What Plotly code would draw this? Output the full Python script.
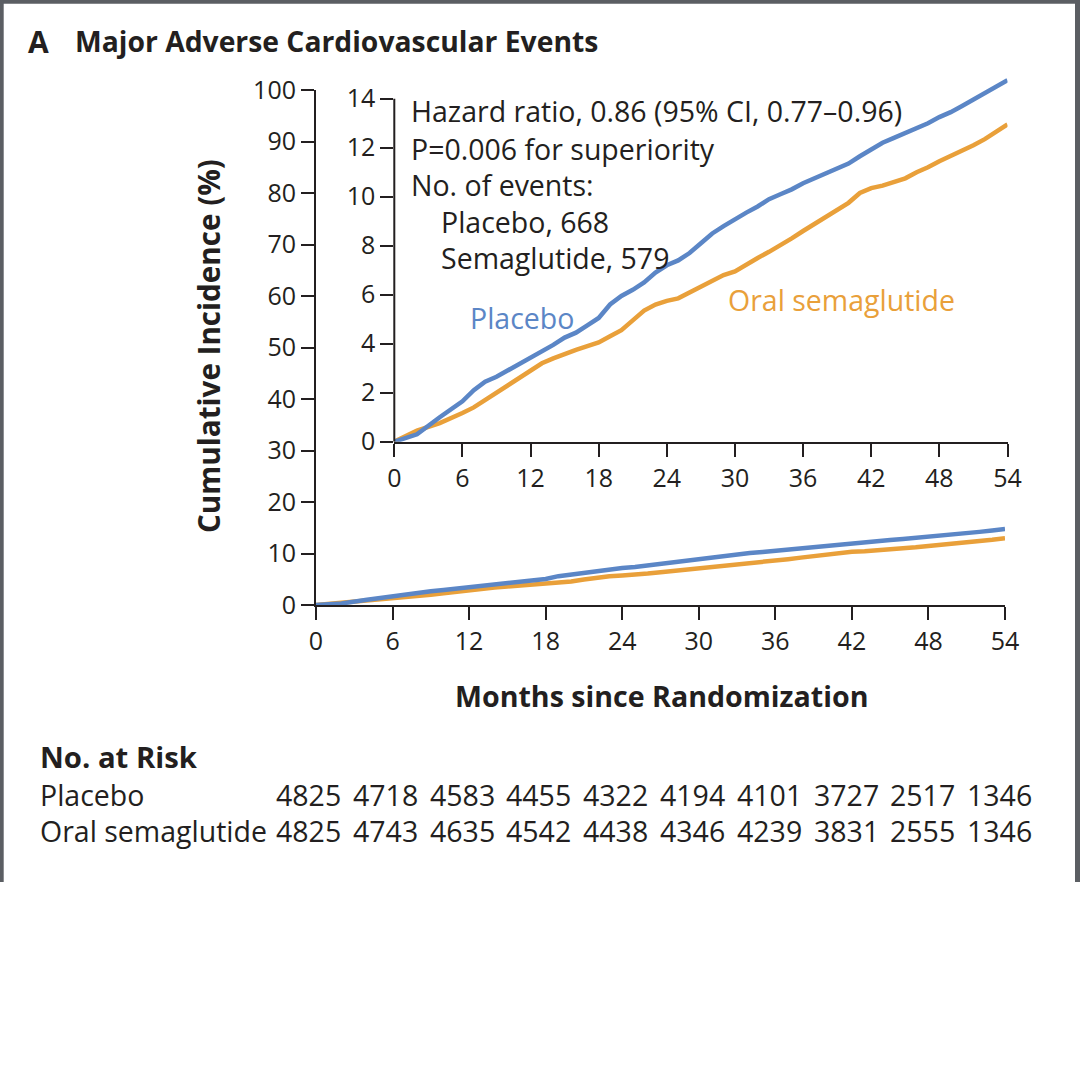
import plotly.graph_objects as go

# ---------------- data ----------------
months = [0, 2, 4, 5, 6, 7, 8, 9, 10, 11, 12, 13, 14, 15, 16, 17, 18, 19, 20, 21, 22, 23, 24,
          25, 26, 27, 28, 29, 30, 31, 32, 33, 34, 35, 36, 37, 38, 39, 40, 41, 42, 43, 44,
          45, 46, 47, 48, 49, 50, 51, 52, 53, 54]
placebo = [0, 0.3, 1.0, 1.35, 1.65, 2.1, 2.45, 2.65, 2.9, 3.15, 3.45, 3.7, 3.95, 4.25, 4.45, 4.75,
           5.05, 5.6, 5.95, 6.2, 6.5, 6.9, 7.2, 7.4, 7.7, 8.1, 8.5, 8.8, 9.1, 9.35, 9.6, 9.9, 10.1,
           10.3, 10.55, 10.75, 10.95, 11.15, 11.35, 11.65, 11.95, 12.2, 12.4, 12.6, 12.8, 13.0,
           13.25, 13.45, 13.7, 13.95, 14.2, 14.45, 14.75]
semaglutide = [0, 0.45, 0.76, 0.95, 1.17, 1.4, 1.7, 2.0, 2.3, 2.6, 2.95, 3.2, 3.4, 3.6, 3.75, 3.9,
               4.05, 4.3, 4.55, 4.95, 5.35, 5.6, 5.75, 5.85, 6.1, 6.35, 6.6, 6.8, 6.95, 7.25, 7.5,
               7.75, 8.0, 8.3, 8.6, 8.9, 9.2, 9.5, 9.75, 10.15, 10.35, 10.45, 10.6, 10.75, 11.0,
               11.2, 11.45, 11.65, 11.85, 12.1, 12.35, 12.65, 12.95]

main_x_ticks = [0, 6, 12, 18, 24, 30, 36, 42, 48, 54]
main_y_ticks = [0, 10, 20, 30, 40, 50, 60, 70, 80, 90, 100]
inset_y_ticks = [0, 2, 4, 6, 8, 10, 12, 14]

risk_placebo = [4825, 4718, 4583, 4455, 4322, 4194, 4101, 3727, 2517, 1346]
risk_sema = [4825, 4743, 4635, 4542, 4438, 4346, 4239, 3831, 2555, 1346]

BLUE = "#5b86c6"
ORANGE = "#e9a03a"
INK = "#231f20"
FRAME = "#5b5e63"
FONT = "Open Sans"

W = H = 1080


def px(x):
    return x / W


def py(y):
    return 1 - y / H


fig = go.Figure()

LW = 4.5
# main plot
fig.add_trace(go.Scatter(x=months, y=semaglutide, mode="lines", line=dict(color=ORANGE, width=LW),
                         xaxis="x", yaxis="y", showlegend=False, hoverinfo="skip"))
fig.add_trace(go.Scatter(x=months, y=placebo, mode="lines", line=dict(color=BLUE, width=LW),
                         xaxis="x", yaxis="y", showlegend=False, hoverinfo="skip"))
# inset
fig.add_trace(go.Scatter(x=months, y=semaglutide, mode="lines", line=dict(color=ORANGE, width=LW),
                         xaxis="x2", yaxis="y2", showlegend=False, hoverinfo="skip"))
fig.add_trace(go.Scatter(x=months, y=placebo, mode="lines", line=dict(color=BLUE, width=LW),
                         xaxis="x2", yaxis="y2", showlegend=False, hoverinfo="skip"))

axis_common = dict(showgrid=False, zeroline=False, showline=True, linecolor=INK, linewidth=2,
                   ticks="outside", ticklen=13, tickwidth=2, tickcolor=INK, automargin=False,
                   tickfont=dict(family=FONT, size=25, color=INK), fixedrange=True)

inset_top_val = 15.2
inset_px_per = 24.5
inset_y0 = 441.7

fig.update_layout(
    template="none",
    width=W, height=H, margin=dict(l=0, r=0, t=0, b=0, pad=0, autoexpand=False), autosize=False,
    paper_bgcolor="white", plot_bgcolor="rgba(0,0,0,0)",
    xaxis=dict(domain=[px(316), px(1005)], range=[0, 54], tickvals=main_x_ticks,
               anchor="y", **axis_common),
    yaxis=dict(domain=[py(605), py(90)], range=[0, 100], tickvals=main_y_ticks,
               anchor="x", **axis_common),
    xaxis2=dict(domain=[px(394.3), px(1007.5)], range=[0, 54], tickvals=main_x_ticks,
                anchor="y2", **axis_common),
    yaxis2=dict(domain=[py(inset_y0), py(inset_y0 - inset_top_val * inset_px_per)],
                range=[0, inset_top_val], tickvals=inset_y_ticks, anchor="x2",
                **{**axis_common, "showline": False}),
)

shapes = [
    # inset y axis line, 0..14
    dict(type="line", xref="x2 domain", yref="y2", x0=0, x1=0, y0=0, y1=14,
         line=dict(color=INK, width=2)),
    # frame
    dict(type="line", xref="paper", yref="paper", x0=px(0), x1=px(1080), y0=py(1.7), y1=py(1.7),
         line=dict(color=FRAME, width=4)),
    dict(type="line", xref="paper", yref="paper", x0=px(1.7), x1=px(1.7), y0=py(0), y1=py(882),
         line=dict(color=FRAME, width=4)),
    dict(type="line", xref="paper", yref="paper", x0=px(1077.5), x1=px(1077.5), y0=py(0), y1=py(882),
         line=dict(color=FRAME, width=5)),
]
fig.update_layout(shapes=shapes)

ann = []


def text(t, x, y, size=28.5, bold=False, color=INK, xanchor="left", angle=0):
    s = f"<b>{t}</b>" if bold else t
    ann.append(dict(text=s, x=px(x), y=py(y), xref="paper", yref="paper", xanchor=xanchor,
                    yanchor="middle", showarrow=False, textangle=angle,
                    font=dict(family=FONT, size=size, color=color)))


text("A", 26, 41, size=30, bold=True)
text("Major Adverse Cardiovascular Events", 73, 41, size=28.3, bold=True)
text("Cumulative Incidence (%)", 208, 346, size=29.6, bold=True, xanchor="center", angle=-90)
text("Months since Randomization", 661, 695, size=28.6, bold=True, xanchor="center")

text("Hazard ratio, 0.86 (95% CI, 0.77\u20130.96)", 409, 111)
text("P=0.006 for superiority", 409, 149)
text("No. of events:", 409, 185)
text("Placebo, 668", 439, 222)
text("Semaglutide, 579", 439, 258)
text("Placebo", 468, 318, color=BLUE)
text("Oral semaglutide", 726, 300, color=ORANGE)

text("No. at Risk", 38, 757, size=29.3, bold=True)
text("Placebo", 38, 795)
text("Oral semaglutide", 38, 831)
for i, (a, b) in enumerate(zip(risk_placebo, risk_sema)):
    cx = 308.5 + 76.8 * i
    text(str(a), cx, 795, xanchor="center")
    text(str(b), cx, 831, xanchor="center")

fig.update_layout(annotations=ann)
fig.write_html("out.html", config={"displayModeBar": False},
               post_script="document.body.style.margin='0';document.body.style.overflow='hidden';")
